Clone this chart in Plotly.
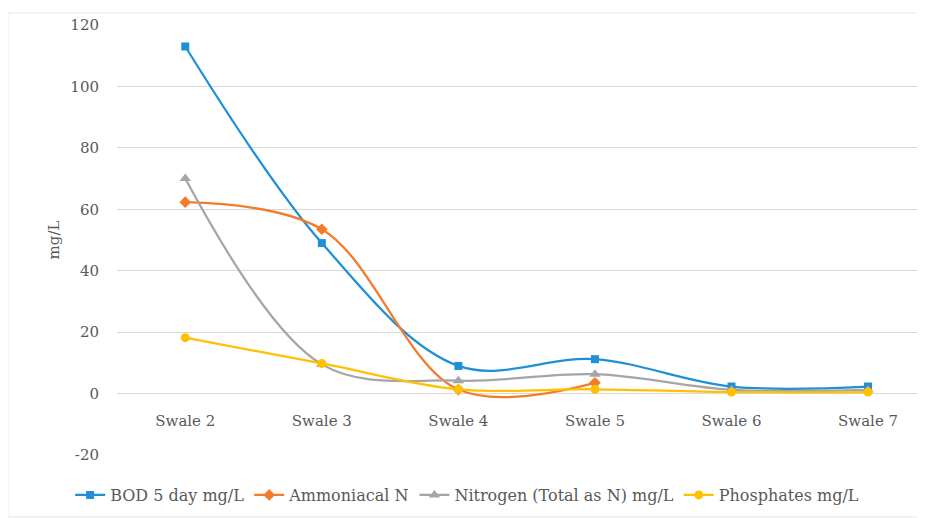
import plotly.graph_objects as go

categories = ["Swale 2", "Swale 3", "Swale 4", "Swale 5", "Swale 6", "Swale 7"]
bod = [113, 49, 9, 11.2, 2.3, 2.3]
ammoniacal = [62.3, 53.5, 1.3, 3.5, None, None]
nitrogen = [70, 9.5, 4.2, 6.3, 1.2, 1.2]
phosphates = [18.2, 9.8, 1.4, 1.4, 0.5, 0.5]
y_ticks = [-20, 0, 20, 40, 60, 80, 100, 120]
y_tick_text = ["-20", "0", "20", "40", "60", "80", "100", "120"]

series = [
    ("BOD 5 day mg/L", bod, "#1F8FD6", "square", 8),
    ("Ammoniacal N", ammoniacal, "#F47B2B", "diamond", 9),
    ("Nitrogen (Total as N) mg/L", nitrogen, "#A5A5A5", "triangle-up", 10),
    ("Phosphates mg/L", phosphates, "#FFC000", "circle", 9),
]

font_family = "DejaVu Serif"
text_color = "#595959"

fig = go.Figure()
for name, vals, color, sym, size in series:
    fig.add_trace(go.Scatter(
        x=categories, y=vals, name=name, mode="lines+markers",
        line=dict(color=color, width=2.25, shape="spline", smoothing=1.0),
        marker=dict(symbol=sym, size=size, color=color),
        connectgaps=False,
    ))

fig.update_layout(
    width=917, height=510,
    margin=dict(l=109, r=0, t=17, b=63),
    paper_bgcolor="white", plot_bgcolor="white",
    font=dict(family=font_family, size=15, color=text_color),
    showlegend=True,
    legend=dict(orientation="h", x=-0.058, xanchor="left", y=-0.093, yanchor="middle",
                font=dict(family=font_family, size=16, color=text_color), itemwidth=30,
                bgcolor="rgba(0,0,0,0)", traceorder="normal"),
    xaxis=dict(
        type="category", range=[-0.5, 5.417], anchor="free", position=20/140,
        showgrid=False, showline=False, zeroline=False, ticks="",
        tickfont=dict(family=font_family, size=15, color=text_color), ticklabelstandoff=16,
    ),
    yaxis=dict(
        range=[-20, 120], tickvals=y_ticks, ticktext=y_tick_text, showgrid=True,
        gridcolor="#D9D9D9", gridwidth=1, zeroline=True, zerolinecolor="#D9D9D9",
        zerolinewidth=1, showline=False, ticks="",
        tickfont=dict(family=font_family, size=15, color=text_color),
        ticklabelstandoff=17,
        title=dict(text="mg/L", font=dict(family=font_family, size=15, color=text_color),
                   standoff=7),
    ),
    shapes=[dict(type="rect", xref="paper", yref="paper", x0=-0.135, x1=1.02,
                 y0=-0.144, y1=1.028, line=dict(color="#E6E6E6", width=1),
                 layer="below")],
)

fig.write_html("out.html")
